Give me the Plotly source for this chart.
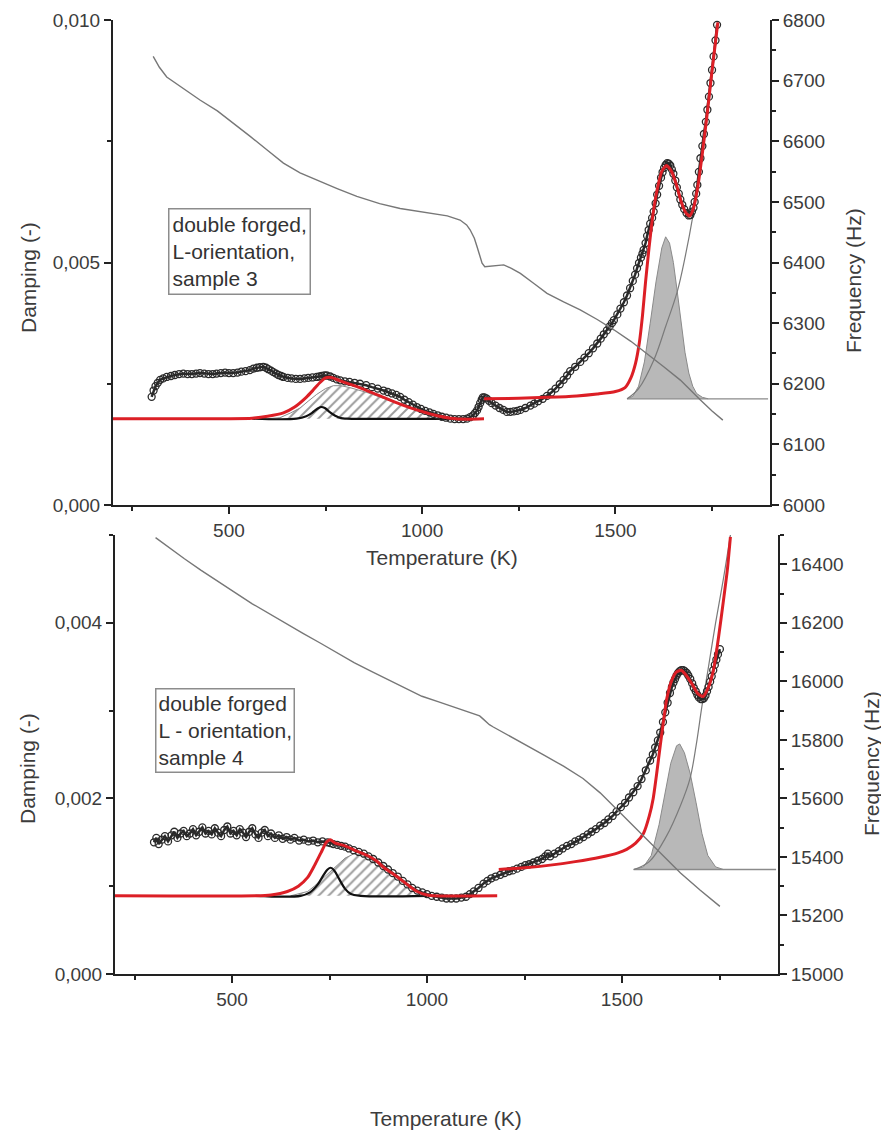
import plotly.graph_objects as go

# page body has an 8 px margin, so the figure is drawn 8 px in from the top-left corner
OFF = 8
W, H = 889 - OFF, 1139 - OFF

# ---------------- TOP PANEL (sample 3) ----------------
top_data_T = [300, 305, 310, 316, 322, 330, 339, 350, 360, 371, 382, 393, 404, 415, 425, 436, 447, 458, 468, 479, 490,
              500, 511, 522, 532, 543, 554, 563, 572, 580, 589, 596, 602, 609, 615, 622, 628, 635, 641, 652, 662, 673,
              684, 695, 705, 716, 727, 734, 740, 747, 753, 762, 770, 779, 788, 800, 812, 825, 839, 855, 870, 885, 900,
              911, 922, 933, 943, 954, 965, 976, 986, 997, 1008, 1019, 1029, 1040, 1051, 1062, 1073, 1084, 1095, 1106,
              1116, 1124, 1132, 1137, 1142, 1146, 1150, 1154, 1157, 1161, 1166, 1173, 1180, 1190, 1200, 1210, 1219,
              1228, 1237, 1246, 1254, 1267, 1280, 1290, 1300, 1312, 1323, 1334, 1345, 1356, 1366, 1375, 1383, 1396,
              1409, 1420, 1431, 1442, 1453, 1462, 1470, 1478, 1485, 1491, 1496, 1505, 1513, 1522, 1530, 1538, 1545,
              1551, 1556, 1561, 1566, 1570, 1573, 1578, 1582, 1586, 1590, 1595, 1599, 1604, 1608, 1613, 1618, 1622,
              1626, 1630, 1634, 1638, 1642, 1646, 1650, 1655, 1659, 1664, 1668, 1673, 1678, 1684, 1690, 1694, 1698,
              1702, 1705, 1709, 1712, 1716, 1720, 1725, 1729, 1734, 1738, 1742, 1746, 1750, 1754, 1759, 1763]
top_data_D = [0.00223, 0.00236, 0.00245, 0.00252, 0.00258, 0.00261, 0.00264, 0.00266, 0.00268, 0.00270, 0.00271,
              0.00270, 0.00270, 0.00271, 0.00272, 0.00271, 0.00270, 0.00270, 0.00271, 0.00272, 0.00273, 0.00272,
              0.00272, 0.00273, 0.00275, 0.00276, 0.00278, 0.00281, 0.00283, 0.00284, 0.00285, 0.00283, 0.00280,
              0.00277, 0.00274, 0.00271, 0.00268, 0.00266, 0.00264, 0.00262, 0.00261, 0.00260, 0.00260, 0.00261,
              0.00262, 0.00263, 0.00264, 0.00265, 0.00266, 0.00267, 0.00267, 0.00265, 0.00262, 0.00259, 0.00257,
              0.00255, 0.00254, 0.00252, 0.00250, 0.00247, 0.00243, 0.00240, 0.00236, 0.00233, 0.00230, 0.00227,
              0.00223, 0.00217, 0.00212, 0.00207, 0.00202, 0.00198, 0.00194, 0.00191, 0.00188, 0.00185, 0.00182,
              0.00180, 0.00178, 0.00177, 0.00177, 0.00177, 0.00178, 0.00181, 0.00185, 0.00190, 0.00195, 0.00202,
              0.00210, 0.00217, 0.00222, 0.00222, 0.00220, 0.00215, 0.00210, 0.00205, 0.00200, 0.00196, 0.00192,
              0.00192, 0.00193, 0.00194, 0.00196, 0.00200, 0.00205, 0.00209, 0.00214, 0.00219, 0.00225, 0.00232,
              0.00240, 0.00249, 0.00258, 0.00267, 0.00276, 0.00285, 0.00295, 0.00304, 0.00313, 0.00323, 0.00333,
              0.00343, 0.00352, 0.00360, 0.00368, 0.00375, 0.00381, 0.00393, 0.00405, 0.00418, 0.00432, 0.00447,
              0.00462, 0.00475, 0.00488, 0.00499, 0.00510, 0.00518, 0.00526, 0.00540, 0.00555, 0.00567, 0.00580,
              0.00592, 0.00605, 0.00622, 0.00640, 0.00658, 0.00675, 0.00686, 0.00695, 0.00701, 0.00705, 0.00704,
              0.00700, 0.00692, 0.00683, 0.00669, 0.00655, 0.00642, 0.00630, 0.00619, 0.00610, 0.00602, 0.00597,
              0.00598, 0.00605, 0.00613, 0.00625, 0.00642, 0.00660, 0.00687, 0.00715, 0.00740, 0.00765, 0.00790,
              0.00815, 0.00842, 0.00870, 0.00897, 0.00925, 0.00958, 0.00990]

top_fit1_T = [200, 500, 560, 600, 641, 670, 700, 718, 735, 750, 765, 788, 820, 857, 900, 943, 986, 1029, 1073, 1116, 1160]
top_fit1_D = [0.00178, 0.00178, 0.00179, 0.00183, 0.00190, 0.00202, 0.00222, 0.00237, 0.00252, 0.00262, 0.00263,
              0.00256, 0.00247, 0.00236, 0.00222, 0.00208, 0.00196, 0.00186, 0.00179, 0.00177, 0.00178]

top_fit2_T = [1160, 1250, 1323, 1400, 1453, 1500, 1525, 1540, 1552, 1562, 1570, 1578, 1587, 1597, 1608, 1620, 1632,
              1645, 1658, 1670, 1682, 1692, 1702, 1713, 1725, 1738, 1750, 1765]
top_fit2_D = [0.00219, 0.00220, 0.00222, 0.00225, 0.00229, 0.00234, 0.00242, 0.00262, 0.00292, 0.00335, 0.00390,
              0.00460, 0.00530, 0.00598, 0.00650, 0.00688, 0.00700, 0.00688, 0.00660, 0.00626, 0.00603, 0.00596,
              0.00612, 0.00655, 0.00725, 0.00810, 0.00895, 0.00995]

top_hatch_T = [600, 632, 660, 684, 705, 727, 750, 770, 790, 813, 857, 900, 943, 986, 1029, 1073, 1110]
top_hatch_D = [0.00178, 0.00180, 0.00190, 0.00200, 0.00214, 0.00228, 0.00240, 0.00246, 0.00246, 0.00242, 0.00232,
               0.00220, 0.00208, 0.00196, 0.00186, 0.00180, 0.00178]

top_small_T = [560, 675, 700, 715, 728, 738, 748, 760, 775, 790, 805, 1120]
top_small_D = [0.00178, 0.00178, 0.00183, 0.00190, 0.00198, 0.00202, 0.00200, 0.00192, 0.00184, 0.00179, 0.00178, 0.00178]

top_peak_T = [1530, 1545, 1560, 1575, 1590, 1605, 1620, 1630, 1640, 1650, 1660, 1670, 1680, 1690, 1700, 1710, 1725, 1740]
top_peak_D = [0.00219, 0.00224, 0.00245, 0.00295, 0.00375, 0.00460, 0.00530, 0.00553, 0.00540, 0.00500, 0.00440,
              0.00372, 0.00315, 0.00272, 0.00245, 0.00230, 0.00222, 0.00219]

top_base_T = [1530, 1895]
top_base_D = [0.00219, 0.00219]

top_exp_T = [1530, 1560, 1600, 1630, 1660, 1680, 1700, 1720, 1740, 1765]
top_exp_D = [0.00219, 0.00240, 0.00300, 0.00368, 0.00440, 0.00510, 0.00594, 0.00700, 0.00830, 0.00995]

top_freq_T = [304, 320, 339, 380, 425, 470, 511, 555, 598, 641, 684, 727, 780, 831, 890, 943, 990, 1029, 1065, 1098,
              1115, 1124, 1135, 1142, 1150, 1155, 1162, 1175, 1195, 1211, 1232, 1254, 1290, 1323, 1366, 1409, 1453,
              1496, 1540, 1582, 1625, 1668, 1700, 1720, 1750, 1778]
top_freq_F = [6740, 6722, 6706, 6688, 6668, 6650, 6630, 6608, 6586, 6564, 6548, 6536, 6522, 6509, 6497, 6489, 6484,
              6481, 6477, 6470, 6462, 6454, 6440, 6426, 6408, 6399, 6393, 6394, 6396, 6396, 6390, 6382, 6365, 6349,
              6335, 6322, 6306, 6289, 6270, 6250, 6228, 6206, 6185, 6173, 6155, 6140]

# ---------------- BOTTOM PANEL (sample 4) ----------------
bot_data_T = [300, 306, 312, 320, 328, 336, 345, 352, 360, 368, 376, 384, 392, 400, 408, 416, 424, 432, 440, 448, 456,
              464, 472, 480, 488, 496, 504, 512, 520, 528, 536, 544, 552, 560, 568, 576, 584, 592, 600, 610, 620, 630,
              640, 650, 660, 672, 684, 696, 708, 720, 732, 745, 752, 760, 770, 780, 790, 800, 812, 825, 838, 850, 862,
              875, 888, 900, 912, 925, 938, 950, 962, 975, 988, 1000, 1012, 1025, 1038, 1050, 1062, 1075, 1088, 1100,
              1110, 1120, 1132, 1145, 1155, 1165, 1176, 1188, 1199, 1210, 1220, 1231, 1242, 1252, 1262, 1273, 1284,
              1295, 1303, 1310, 1316, 1327, 1338, 1348, 1359, 1370, 1380, 1390, 1401, 1412, 1422, 1433, 1444, 1455,
              1465, 1476, 1486, 1497, 1508, 1518, 1529, 1540, 1550, 1561, 1572, 1579, 1585, 1592, 1598, 1605, 1611,
              1617, 1623, 1628, 1632, 1636, 1640, 1644, 1648, 1652, 1657, 1661, 1666, 1670, 1675, 1680, 1684, 1689,
              1693, 1697, 1702, 1706, 1710, 1714, 1718, 1722, 1726, 1730, 1734, 1738, 1742, 1746, 1751]
bot_data_D = [0.00150, 0.00155, 0.00148, 0.00153, 0.00157, 0.00151, 0.00158, 0.00162, 0.00155, 0.00160, 0.00163,
              0.00157, 0.00160, 0.00165, 0.00158, 0.00162, 0.00167, 0.00160, 0.00163, 0.00159, 0.00166, 0.00161,
              0.00157, 0.00164, 0.00168, 0.00160, 0.00163, 0.00158, 0.00165, 0.00161, 0.00156, 0.00162, 0.00166,
              0.00159, 0.00155, 0.00161, 0.00164, 0.00157, 0.00160, 0.00155, 0.00158, 0.00154, 0.00156, 0.00153,
              0.00155, 0.00152, 0.00153, 0.00151, 0.00152, 0.00150, 0.00151, 0.00150, 0.00149, 0.00148, 0.00147,
              0.00146, 0.00145, 0.00143, 0.00141, 0.00139, 0.00137, 0.00134, 0.00131, 0.00127, 0.00123, 0.00119,
              0.00115, 0.00111, 0.00106, 0.00102, 0.00098, 0.00095, 0.00093, 0.00091, 0.00089, 0.00088, 0.00087,
              0.00086, 0.00086, 0.00086, 0.00087, 0.00088, 0.00091, 0.00094, 0.00098, 0.00103, 0.00106, 0.00109,
              0.00111, 0.00113, 0.00115, 0.00117, 0.00118, 0.00120, 0.00122, 0.00124, 0.00125, 0.00127, 0.00129,
              0.00131, 0.00134, 0.00137, 0.00134, 0.00137, 0.00140, 0.00143, 0.00146, 0.00148, 0.00151, 0.00153,
              0.00156, 0.00159, 0.00162, 0.00165, 0.00169, 0.00172, 0.00176, 0.00180, 0.00185, 0.00190, 0.00195,
              0.00201, 0.00207, 0.00214, 0.00222, 0.00232, 0.00243, 0.00250, 0.00258, 0.00266, 0.00275, 0.00287,
              0.00298, 0.00309, 0.00320, 0.00327, 0.00332, 0.00336, 0.00340, 0.00343, 0.00345, 0.00346, 0.00346,
              0.00345, 0.00343, 0.00340, 0.00336, 0.00331, 0.00326, 0.00322, 0.00318, 0.00315, 0.00313, 0.00313,
              0.00314, 0.00317, 0.00322, 0.00327, 0.00333, 0.00339, 0.00346, 0.00352, 0.00358, 0.00364, 0.00370]

bot_fit1_T = [200, 560, 600, 642, 670, 694, 712, 728, 742, 752, 765, 790, 820, 847, 870, 890, 910, 932, 955, 975,
              1000, 1017, 1180]
bot_fit1_D = [0.00089, 0.00089, 0.00090, 0.00094, 0.00100, 0.00110, 0.00124, 0.00138, 0.00150, 0.00153, 0.00149,
              0.00146, 0.00140, 0.00135, 0.00129, 0.00121, 0.00115, 0.00108, 0.00100, 0.00094, 0.00090, 0.00089,
              0.00089]

bot_fit2_T = [1184, 1250, 1316, 1380, 1444, 1490, 1512, 1535, 1555, 1570, 1580, 1590, 1598, 1607, 1615, 1628, 1640,
              1652, 1665, 1680, 1695, 1708, 1720, 1734, 1748, 1760, 1770, 1778]
bot_fit2_D = [0.00119, 0.00121, 0.00124, 0.00128, 0.00133, 0.00138, 0.00142, 0.00149, 0.00160, 0.00180, 0.00200,
              0.00232, 0.00260, 0.00290, 0.00314, 0.00335, 0.00344, 0.00346, 0.00340, 0.00330, 0.00319, 0.00316,
              0.00325, 0.00345, 0.00385, 0.00425, 0.00460, 0.00498]

bot_hatch_T = [650, 694, 711, 735, 762, 790, 813, 847, 870, 890, 912, 932, 955, 975, 1000]
bot_hatch_D = [0.00089, 0.00094, 0.00100, 0.00110, 0.00121, 0.00132, 0.00137, 0.00133, 0.00127, 0.00121, 0.00114,
               0.00107, 0.00099, 0.00093, 0.00089]

bot_small_T = [560, 676, 700, 720, 735, 745, 753, 762, 775, 790, 805, 830, 1000]
bot_small_D = [0.00089, 0.00089, 0.00093, 0.00102, 0.00113, 0.00119, 0.00121, 0.00118, 0.00108, 0.00097, 0.00091,
               0.00089, 0.00089]

bot_peak_T = [1530, 1555, 1575, 1595, 1610, 1625, 1640, 1648, 1660, 1675, 1690, 1705, 1720, 1740, 1760]
bot_peak_D = [0.00119, 0.00122, 0.00135, 0.00170, 0.00205, 0.00240, 0.00260, 0.00262, 0.00252, 0.00228, 0.00195,
              0.00160, 0.00135, 0.00122, 0.00119]

bot_base_T = [1530, 1895]
bot_base_D = [0.00119, 0.00119]

bot_exp_T = [1530, 1570, 1614, 1650, 1674, 1690, 1705, 1720, 1740, 1760, 1778]
bot_exp_D = [0.00119, 0.00128, 0.00157, 0.00192, 0.00222, 0.00260, 0.00305, 0.00345, 0.00400, 0.00450, 0.00500]

bot_freq_T = [304, 340, 378, 420, 465, 508, 552, 595, 639, 682, 726, 770, 813, 856, 900, 943, 987, 1030, 1074, 1110,
              1135, 1145, 1160, 1170, 1210, 1257, 1300, 1350, 1400, 1444, 1500, 1555, 1600, 1650, 1700, 1751]
bot_freq_F = [16491, 16455, 16419, 16380, 16342, 16303, 16265, 16231, 16198, 16164, 16131, 16097, 16064, 16035, 16006,
              15977, 15949, 15930, 15911, 15895, 15882, 15870, 15852, 15844, 15815, 15780, 15748, 15710, 15668, 15619,
              15545, 15470, 15412, 15345, 15287, 15231]

# ---------------- STYLE ----------------
RED = "#dc1f26"
AX = "#222222"
TXT = "#3c3c3c"
FONT = "Liberation Sans, Arial, sans-serif"

fig = go.Figure()


def panel(xa, ya, ya2, data_T, data_D, fit1_T, fit1_D, fit2_T, fit2_D, hatch_T, hatch_D, small_T, small_D,
          peak_T, peak_D, base_T, base_D, exp_T, exp_D, freq_T, freq_F):
    fig.add_trace(go.Scatter(x=hatch_T, y=hatch_D, xaxis=xa, yaxis=ya, mode="lines", fill="toself",
                             line=dict(color="#8a8a8a", width=1), fillcolor="rgba(255,255,255,0)",
                             fillpattern=dict(shape="/", fgcolor="#3a3a3a", bgcolor="rgba(255,255,255,0)",
                                              size=7, solidity=0.28),
                             showlegend=False, hoverinfo="skip"))
    fig.add_trace(go.Scatter(x=peak_T, y=peak_D, xaxis=xa, yaxis=ya, mode="lines", fill="toself",
                             line=dict(color="#8a8a8a", width=1), fillcolor="#b8b8b8",
                             showlegend=False, hoverinfo="skip"))
    fig.add_trace(go.Scatter(x=base_T, y=base_D, xaxis=xa, yaxis=ya, mode="lines",
                             line=dict(color="#8a8a8a", width=1.3), showlegend=False, hoverinfo="skip"))
    fig.add_trace(go.Scatter(x=exp_T, y=exp_D, xaxis=xa, yaxis=ya, mode="lines",
                             line=dict(color="#7a7a7a", width=1.2, shape="spline"), showlegend=False,
                             hoverinfo="skip"))
    fig.add_trace(go.Scatter(x=small_T, y=small_D, xaxis=xa, yaxis=ya, mode="lines",
                             line=dict(color="#111111", width=2.2, shape="spline"), showlegend=False,
                             hoverinfo="skip"))
    fig.add_trace(go.Scatter(x=data_T, y=data_D, xaxis=xa, yaxis=ya, mode="lines+markers",
                             line=dict(color="#2a2a2a", width=2.5),
                             marker=dict(symbol="circle-open", size=7, color="#2a2a2a",
                                         line=dict(width=1.3, color="#2a2a2a")),
                             showlegend=False, hoverinfo="skip"))
    for fx, fy in ((fit1_T, fit1_D), (fit2_T, fit2_D)):
        fig.add_trace(go.Scatter(x=fx, y=fy, xaxis=xa, yaxis=ya, mode="lines",
                                 line=dict(color=RED, width=3, shape="spline", smoothing=0.6),
                                 showlegend=False, hoverinfo="skip"))
    fig.add_trace(go.Scatter(x=freq_T, y=freq_F, xaxis=xa, yaxis=ya2, mode="lines",
                             line=dict(color="#777777", width=1.4), showlegend=False, hoverinfo="skip"))


panel("x", "y", "y2", top_data_T, top_data_D, top_fit1_T, top_fit1_D, top_fit2_T, top_fit2_D,
      top_hatch_T, top_hatch_D, top_small_T, top_small_D, top_peak_T, top_peak_D, top_base_T, top_base_D,
      top_exp_T, top_exp_D, top_freq_T, top_freq_F)
panel("x2", "y3", "y4", bot_data_T, bot_data_D, bot_fit1_T, bot_fit1_D, bot_fit2_T, bot_fit2_D,
      bot_hatch_T, bot_hatch_D, bot_small_T, bot_small_D, bot_peak_T, bot_peak_D, bot_base_T, bot_base_D,
      bot_exp_T, bot_exp_D, bot_freq_T, bot_freq_F)


def ax(**kw):
    d = dict(showline=True, linecolor=AX, linewidth=2, ticks="outside", ticklen=7, tickwidth=2,
             tickcolor=AX, showgrid=False, zeroline=False, mirror=False, automargin=False,
             tickfont=dict(family=FONT, size=19, color=TXT))
    d.update(kw)
    return d


def px_x(p):
    return (p - OFF) / W


def px_y(p):
    return 1 - (p - OFF) / H


fig.update_layout(
    width=W, height=H, margin=dict(l=0, r=0, t=0, b=0),
    paper_bgcolor="white", plot_bgcolor="white", separators=", ",
    xaxis=ax(domain=[px_x(113), px_x(770)], anchor="y", range=[200, 1900], tick0=0, dtick=500,
             minor=dict(ticks="outside", dtick=250, ticklen=4, tickwidth=2, tickcolor=AX)),
    yaxis=ax(domain=[px_y(505), px_y(20)], anchor="x", range=[0, 0.010], dtick=0.005, tickformat=".3f",
             minor=dict(ticks="outside", dtick=0.0025, ticklen=4, tickwidth=2, tickcolor=AX)),
    yaxis2=ax(overlaying="y", side="right", anchor="x", range=[6000, 6800], dtick=100, tickformat="d",
              minor=dict(ticks="outside", dtick=50, ticklen=4, tickwidth=2, tickcolor=AX)),
    xaxis2=ax(domain=[px_x(115), px_x(778)], anchor="y3", range=[200, 1900], tick0=0, dtick=500,
              minor=dict(ticks="outside", dtick=250, ticklen=4, tickwidth=2, tickcolor=AX)),
    yaxis3=ax(domain=[px_y(974), px_y(535)], anchor="x2", range=[0, 0.005], dtick=0.002, tickformat=".3f",
              minor=dict(ticks="outside", dtick=0.001, ticklen=4, tickwidth=2, tickcolor=AX)),
    yaxis4=ax(overlaying="y3", side="right", anchor="x2", range=[15000, 16500], dtick=200, tickformat="d",
              minor=dict(ticks="outside", dtick=100, ticklen=4, tickwidth=2, tickcolor=AX)),
)

title_font = dict(family=FONT, size=21, color=TXT)
annos = [
    dict(text="Temperature (K)", x=px_x(442), y=px_y(558), textangle=0),
    dict(text="Temperature (K)", x=px_x(446), y=px_y(1118), textangle=0),
    dict(text="Damping (-)", x=px_x(28), y=px_y(278), textangle=-90),
    dict(text="Damping (-)", x=px_x(27), y=px_y(769), textangle=-90),
    dict(text="Frequency (Hz)", x=px_x(853), y=px_y(281), textangle=-90),
    dict(text="Frequency (Hz)", x=px_x(871), y=px_y(764), textangle=-90),
]
for a in annos:
    fig.add_annotation(xref="paper", yref="paper", showarrow=False, xanchor="center", yanchor="middle",
                       font=title_font, **a)

box_font = dict(family=FONT, size=21, color="#333333")
fig.add_annotation(xref="paper", yref="paper", x=px_x(168), y=px_y(208), xanchor="left", yanchor="top",
                   showarrow=False, align="left", text="double forged,<br>L-orientation,<br>sample 3",
                   font=box_font, bordercolor="#8c8c8c", borderwidth=1.5, borderpad=3, bgcolor="white")
fig.add_annotation(xref="paper", yref="paper", x=px_x(155), y=px_y(688), xanchor="left", yanchor="top",
                   showarrow=False, align="left", text="double forged<br>L - orientation,<br>sample 4",
                   font=box_font, bordercolor="#8c8c8c", borderwidth=1.5, borderpad=2, bgcolor="white")

fig.write_html("out.html")
